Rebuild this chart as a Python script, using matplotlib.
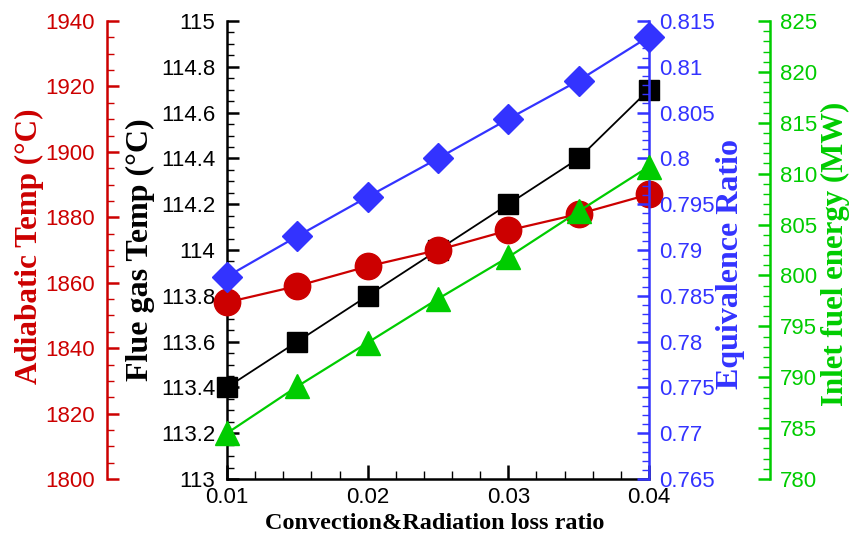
import matplotlib
matplotlib.use('Agg')
import matplotlib.pyplot as plt
from matplotlib.ticker import MultipleLocator, FormatStrFormatter

# Convection & radiation heat loss ratio
loss_ratio = [0.01, 0.015, 0.02, 0.025, 0.03, 0.035, 0.04]

# Results for each loss ratio
flue_gas_temp = [113.4, 113.6, 113.8, 114.0, 114.2, 114.4, 114.7]
adiabatic_temp = [1854, 1859, 1865, 1870, 1876, 1881, 1887]
equivalence_ratio = [0.7871, 0.7915, 0.7958, 0.8000, 0.8043, 0.8085, 0.8133]
inlet_fuel_energy = [784.5, 789.1, 793.4, 797.7, 801.8, 806.3, 810.7]

RED = '#cc0000'
BLUE = '#3333ff'
GREEN = '#00cc00'
BLACK = '#000000'

LABEL_FONT = dict(family='Liberation Serif', fontweight='bold')


def style_yaxis(ax, side, color, limits, major, minor, pad):
    """Ustawia jedną oś Y: zakres, ticki, kolor i pozycję."""
    ax.set_ylim(*limits)
    ax.yaxis.set_major_locator(MultipleLocator(major))
    ax.yaxis.set_minor_locator(MultipleLocator(minor))
    ax.yaxis.set_major_formatter(FormatStrFormatter('%g'))
    ax.yaxis.set_ticks_position(side)
    ax.yaxis.set_label_position(side)
    for spine in ax.spines.values():
        spine.set_visible(False)
    ax.spines[side].set_visible(True)
    ax.spines[side].set_color(color)
    ax.spines[side].set_linewidth(1.8)
    ax.tick_params(axis='y', which='both', direction='in', colors=color,
                   labelsize=16, pad=pad)
    ax.tick_params(axis='y', which='major', length=8.6, width=1.8)
    ax.tick_params(axis='y', which='minor', length=5, width=1.0)


def set_label(ax, text, color, x, y, size):
    ax.set_ylabel(text, color=color, fontsize=size, **LABEL_FONT)
    ax.yaxis.set_label_coords(x, y)
    ax.yaxis.label.set_va('center')
    ax.yaxis.label.set_ha('center')


def main():
    plt.rcParams['font.family'] = ['Liberation Sans', 'DejaVu Sans']

    fig = plt.figure(figsize=(8.49, 5.40), dpi=100)
    ax = fig.add_axes([227 / 849, 1 - 479 / 540, 422 / 849, 458 / 540])

    ax_red = ax.twinx()
    ax_blue = ax.twinx()
    ax_green = ax.twinx()

    # Oś X (wspólna)
    ax.set_xlim(0.01, 0.04)
    ax.xaxis.set_major_locator(MultipleLocator(0.01))
    ax.xaxis.set_minor_locator(MultipleLocator(0.002))
    ax.xaxis.set_major_formatter(FormatStrFormatter('%g'))
    ax.tick_params(axis='x', which='both', direction='in', labelsize=16,
                   pad=6, top=False)
    ax.tick_params(axis='x', which='major', length=10, width=1.8)
    ax.tick_params(axis='x', which='minor', length=6, width=1.0)

    style_yaxis(ax, 'left', BLACK, (113, 115), 0.2, 0.05, 8.6)
    ax.spines['bottom'].set_visible(True)
    ax.spines['bottom'].set_linewidth(1.8)

    style_yaxis(ax_red, 'left', RED, (1800, 1940), 20, 5, 8.6)
    ax_red.spines['left'].set_position(('axes', -120 / 422))

    style_yaxis(ax_blue, 'right', BLUE, (0.765, 0.815), 0.005, 0.001, 7)

    style_yaxis(ax_green, 'right', GREEN, (780, 825), 5, 1, 7)
    ax_green.spines['right'].set_position(('axes', 543 / 422))

    # Serie danych
    ax.plot(loss_ratio, flue_gas_temp, color=BLACK, lw=1.3, marker='s',
            ms=14, clip_on=False, zorder=3)
    ax_red.plot(loss_ratio, adiabatic_temp, color=RED, lw=1.6, marker='o',
                ms=19, clip_on=False, zorder=3)
    ax_blue.plot(loss_ratio, equivalence_ratio, color=BLUE, lw=1.6,
                 marker='D', ms=15, clip_on=False, zorder=3)
    ax_green.plot(loss_ratio, inlet_fuel_energy, color=GREEN, lw=1.6,
                  marker='^', ms=17, clip_on=False, zorder=3)

    # Opisy osi
    ax.set_xlabel('Convection&Radiation loss ratio', fontsize=17.5,
                  **LABEL_FONT)
    ax.xaxis.set_label_coords(0.493, -0.098)
    ax.xaxis.label.set_va('center')

    set_label(ax_red, 'Adiabatic Temp (°C)', RED, -0.469, 0.5076, 22.4)
    set_label(ax, 'Flue gas Temp (°C)', BLACK, -0.204, 0.50, 23)
    set_label(ax_blue, 'Equivalence Ratio', BLUE, 1.194, 0.47, 23)
    set_label(ax_green, 'Inlet fuel energy (MW)', GREEN, 1.441, 0.492, 22.2)

    fig.savefig('out.png', dpi=100)


if __name__ == "__main__":
    main()
